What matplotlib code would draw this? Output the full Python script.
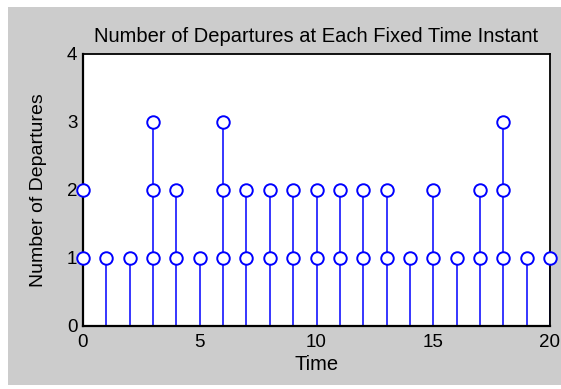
import matplotlib.pyplot as plt
from matplotlib.patches import Rectangle

TIMES = list(range(21))
DEPARTURES = [2, 1, 1, 3, 2, 1, 3, 2, 2, 2, 2, 2, 2, 2, 1, 2, 1, 2, 3, 1, 1]
X_TICKS = [0, 5, 10, 15, 20]
Y_TICKS = [0, 1, 2, 3, 4]

BLUE = "#0000ff"

plt.rcParams["font.family"] = ["Liberation Sans", "DejaVu Sans"]

fig = plt.figure(figsize=(5.61, 3.89), dpi=100, facecolor="white")
fig.patches.append(Rectangle((8 / 561, 4 / 389), 1, 378 / 389,
                             transform=fig.transFigure, facecolor="#cccccc",
                             edgecolor="none", zorder=-10))
ax = fig.add_axes([83 / 561, 63 / 389, 467 / 561, 272 / 389])

for t, n in zip(TIMES, DEPARTURES):
    ax.vlines(t, 0, n, color=BLUE, linewidth=1.1, zorder=2)
    levels = list(range(1, n + 1))
    ax.plot([t] * len(levels), levels, linestyle="none", marker="o",
            markersize=9, markerfacecolor="white", markeredgecolor=BLUE,
            markeredgewidth=1.4, clip_on=False, zorder=3)

ax.set_xlim(0, 20)
ax.set_ylim(0, 4)
ax.set_xticks(X_TICKS)
ax.set_yticks(Y_TICKS)
ax.tick_params(direction="in", length=0, labelsize=13.5)
ax.tick_params(axis="x", pad=6)
ax.tick_params(axis="y", pad=4)
for side in ax.spines.values():
    side.set_color("black")
    side.set_linewidth(1.3)
ax.spines["left"].set_linewidth(1.6)
ax.spines["bottom"].set_linewidth(1.6)

ax.set_title("Number of Departures at Each Fixed Time Instant", fontsize=14.5, pad=9)
ax.set_xlabel("Time", fontsize=14.5, labelpad=3)
ax.set_ylabel("Number of Departures", fontsize=14, labelpad=14)

fig.savefig("out.png", dpi=100, facecolor=fig.get_facecolor())
